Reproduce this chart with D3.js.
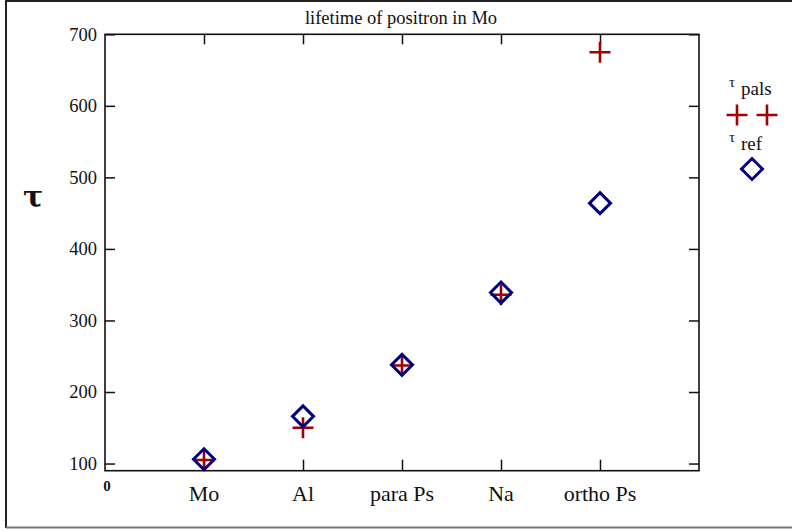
<!DOCTYPE html>
<html>
<head>
<meta charset="utf-8">
<script src="https://cdn.jsdelivr.net/npm/d3@7"></script>
<style>
  html, body { margin: 0; padding: 0; background: #fff; }
  svg { display: block; }
  text { font-family: "Liberation Serif", "Times New Roman", serif; fill: #111; }
</style>
</head>
<body>
<svg id="chart" width="792" height="531"></svg>
<script>
// Positron lifetimes (ps) for each sample
const categories = ["Mo", "Al", "para Ps", "Na", "ortho Ps"];
const tauPals = [105, 150, 237, 336, 675];
const tauRef = [106, 166, 238, 339, 464];
const yTicks = [100, 200, 300, 400, 500, 600, 700];
const xZeroLabel = "0";
const titleText = "lifetime of positron in Mo";

const svg = d3.select("#chart");
const W = 792, H = 531;
const plot = { left: 105, right: 699, top: 34.3, bottom: 470.7 };

const x = d3.scaleLinear().domain([0, categories.length + 1]).range([plot.left, plot.right]);
const y = d3.scaleLinear().domain([90, 700]).range([plot.bottom, plot.top]);

const red = "#a00000";
const blue = "#00007f";

// outer frame
svg.append("line").attr("x1", 6).attr("x2", W).attr("y1", 1).attr("y2", 1)
  .attr("stroke", "#222").attr("stroke-width", 2);
svg.append("line").attr("x1", 6).attr("x2", 6).attr("y1", 0).attr("y2", 528)
  .attr("stroke", "#222").attr("stroke-width", 2);
svg.append("line").attr("x1", 6).attr("x2", W).attr("y1", 527.5).attr("y2", 527.5)
  .attr("stroke", "#777").attr("stroke-width", 2);

// title
svg.append("text").attr("x", 401).attr("y", 24).attr("text-anchor", "middle")
  .style("font-size", "18.5px").text(titleText);

// plot box
svg.append("rect").attr("x", plot.left).attr("y", plot.top)
  .attr("width", plot.right - plot.left).attr("height", plot.bottom - plot.top)
  .attr("fill", "none").attr("stroke", "#111").attr("stroke-width", 1.6);

const catPos = categories.map((c, i) => i + 1);

// left axis with inward ticks
const gL = svg.append("g").attr("transform", `translate(${plot.left},0)`)
  .call(d3.axisLeft(y).tickValues(yTicks).tickSize(-10).tickPadding(8).tickFormat(d3.format("d")));
// right axis ticks
const gR = svg.append("g").attr("transform", `translate(${plot.right},0)`)
  .call(d3.axisRight(y).tickValues(yTicks).tickSize(-10).tickFormat(""));
// bottom axis ticks
const gB = svg.append("g").attr("transform", `translate(0,${plot.bottom})`)
  .call(d3.axisBottom(x).tickValues(catPos).tickSize(-11).tickFormat(""));
// top axis ticks
const gT = svg.append("g").attr("transform", `translate(0,${plot.top})`)
  .call(d3.axisTop(x).tickValues(catPos).tickSize(-10).tickFormat(""));

[gL, gR, gB, gT].forEach(g => {
  g.select(".domain").remove();
  g.selectAll(".tick line").attr("stroke", "#111").attr("stroke-width", 1.5);
});
gL.selectAll(".tick text").style("font-family", "'Liberation Serif', serif")
  .style("font-size", "18.5px").attr("fill", "#111");

// x labels
svg.append("text").attr("x", x(0) + 2).attr("y", plot.bottom + 20).attr("text-anchor", "middle")
  .style("font-size", "15px").style("font-weight", "bold").text(xZeroLabel);
svg.selectAll("text.cat").data(categories).enter().append("text").attr("class", "cat")
  .attr("x", (d, i) => x(i + 1)).attr("y", 501)
  .attr("text-anchor", "middle").style("font-size", "22px").text(d => d);

// y-axis label
svg.append("text").attr("x", 33).attr("y", 207).attr("text-anchor", "middle")
  .style("font-size", "30px").style("font-weight", "bold")
  .style("font-family", "'DejaVu Serif', serif").text("τ");

// marker helpers
const plusPath = s => `M${-s},0H${s}M0,${-s}V${s}`;
const diamondPath = s => `M0,${-s}L${s},0L0,${s}L${-s},0Z`;

// tau_pals (red plus)
svg.selectAll("path.pals").data(tauPals).enter().append("path").attr("class", "pals")
  .attr("d", plusPath(10.5))
  .attr("transform", (d, i) => `translate(${x(i + 1)},${y(d)})`)
  .attr("fill", "none").attr("stroke", red).attr("stroke-width", 2.6);

// tau_ref (blue diamond)
svg.selectAll("path.ref").data(tauRef).enter().append("path").attr("class", "ref")
  .attr("d", diamondPath(10.5))
  .attr("transform", (d, i) => `translate(${x(i + 1)},${y(d)})`)
  .attr("fill", "none").attr("stroke", blue).attr("stroke-width", 3);

// legend
const lg = svg.append("g");
function legendLabel(yb, sub) {
  const t = lg.append("text").attr("x", 729).attr("y", yb);
  t.append("tspan").style("font-size", "15px").attr("dy", -8).text("τ");
  t.append("tspan").style("font-size", "19px").attr("dx", 6).attr("dy", 8).text(sub);
}
legendLabel(95, "pals");
[737, 767].forEach(cx => lg.append("path").attr("d", plusPath(10.5))
  .attr("transform", `translate(${cx},115)`).attr("fill", "none")
  .attr("stroke", red).attr("stroke-width", 2.6));
legendLabel(150, "ref");
lg.append("path").attr("d", diamondPath(10.5)).attr("transform", "translate(752,169)")
  .attr("fill", "none").attr("stroke", blue).attr("stroke-width", 3);
</script>
</body>
</html>
